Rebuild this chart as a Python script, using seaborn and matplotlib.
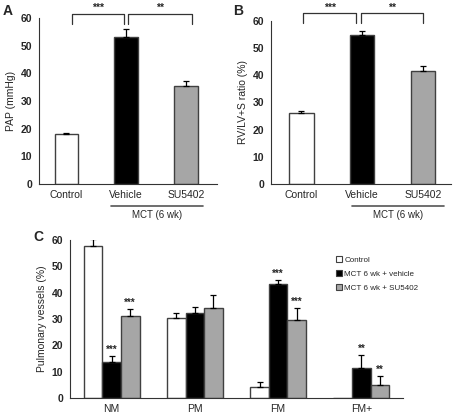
import numpy as np
import pandas as pd
import matplotlib
matplotlib.use('Agg')
import matplotlib.pyplot as plt
from matplotlib.lines import Line2D
from matplotlib.patches import Patch
import seaborn as sns

# panel A / B data
groups = ['Control', 'Vehicle', 'SU5402']
pap_mean = [18.0, 53.3, 35.5]
pap_err = [0.6, 2.8, 1.7]
rv_mean = [26.2, 55.0, 41.6]
rv_err = [0.6, 1.5, 1.7]

# panel C data
vessel_types = ['NM', 'PM', 'FM', 'FM+']
treatments = ['Control', 'MCT 6 wk + vehicle', 'MCT 6 wk + SU5402']
control_pct = [57.8, 30.2, 4.3, 0.0]
control_err = [2.6, 1.9, 1.6, 0.0]
vehicle_pct = [13.5, 32.3, 43.2, 11.3]
vehicle_err = [2.5, 2.3, 1.7, 5.0]
su_pct = [31.2, 34.2, 29.5, 5.0]
su_err = [2.6, 5.1, 4.8, 3.4]
vehicle_stars = ['***', '', '***', '**']
su_stars = ['***', '', '***', '**']

colors = ['white', 'black', '#a6a6a6']
edge = '#404040'

sns.set_style('white')
plt.rcParams['font.family'] = ['Liberation Sans', 'DejaVu Sans']

W, H = 461, 417
fig = plt.figure(figsize=(W / 100, H / 100), dpi=100)


def px_axes(l, t, r, b):
    return fig.add_axes([l / W, 1 - b / H, (r - l) / W, (b - t) / H])


def style_axis(ax, ylabel):
    sns.despine(ax=ax)
    for s in ['left', 'bottom']:
        ax.spines[s].set_color('#333333')
        ax.spines[s].set_linewidth(0.8)
    ax.set_ylim(0, 60)
    ax.set_yticks(range(0, 61, 10))
    ax.tick_params(axis='y', direction='out', length=3, width=0.8, color='#333333',
                   labelsize=7.5, pad=2)
    ax.tick_params(axis='x', length=0, labelsize=7.5, pad=4)
    for lab in ax.get_yticklabels():
        lab.set_fontweight('bold')
    ax.set_ylabel(ylabel, fontsize=7.5, labelpad=3)
    ax.set_xlabel('')


def simple_panel(ax, means, errs, ylabel, bracket, ytop, ylow):
    df = pd.DataFrame({'group': groups, 'value': means})
    sns.barplot(data=df, x='group', y='value', hue='group', palette=colors,
                width=0.4, edgecolor=edge, linewidth=1, legend=False, ax=ax)
    ax.errorbar(range(len(means)), means, yerr=[np.zeros(len(errs)), errs],
                fmt='none', ecolor='black', elinewidth=0.9, capsize=2, capthick=0.9)
    style_axis(ax, ylabel)
    # significance brackets
    (a0, a1), (b0, b1) = bracket
    for x0, x1, txt in [(a0, a1, '***'), (b0, b1, '**')]:
        ax.plot([x0, x0, x1, x1], [ylow, ytop, ytop, ylow], color='#333333',
                lw=0.9, clip_on=False)
        ax.text((x0 + x1) / 2, ytop + 0.3, txt, ha='center', va='bottom',
                fontsize=7.5, fontweight='bold', clip_on=False)


axA = px_axes(39, 18, 217, 184)
simple_panel(axA, pap_mean, pap_err, 'PAP (mmHg)', [(0.1, 0.96), (1.03, 2.1)], 61.5, 58.0)
axA.set_xlim(-0.46, 2.52)

axB = px_axes(271, 21, 451, 184)
simple_panel(axB, rv_mean, rv_err, 'RV/LV+S ratio (%)', [(0.03, 0.9), (0.98, 2.0)], 62.8, 59.4)
axB.set_xlim(-0.5, 2.46)

fig.text(3 / W, 1 - 11 / H, 'A', fontsize=10, fontweight='bold', va='center')
fig.text(233 / W, 1 - 11 / H, 'B', fontsize=10, fontweight='bold', va='center')

# MCT (6 wk) labels
for x0, x1 in [(111, 203), (352, 444)]:
    fig.add_artist(Line2D([x0 / W, x1 / W], [1 - 205.5 / H] * 2,
                          transform=fig.transFigure, color='#555555', lw=1.2))
    fig.text((x0 + x1) / 2 / W, 1 - 215 / H, 'MCT (6 wk)', ha='center', va='center',
             fontsize=7)

# panel C
axC = px_axes(70, 240, 403, 398)
dfC = pd.DataFrame({
    'type': vessel_types * 3,
    'treatment': np.repeat(treatments, len(vessel_types)),
    'value': control_pct + vehicle_pct + su_pct,
})
sns.barplot(data=dfC, x='type', y='value', hue='treatment', palette=colors,
            width=0.67, gap=0, edgecolor=edge, linewidth=1, legend=False, ax=axC)
style_axis(axC, 'Pulmonary vessels (%)')
axC.set_xlim(-0.5, 3.5)
axC.set_xticks([0.5, 1.5, 2.5, 3.5], minor=True)
axC.tick_params(axis='x', which='minor', direction='out', length=3, width=0.8,
                color='#333333')

errs_all = [control_err, vehicle_err, su_err]
means_all = [control_pct, vehicle_pct, su_pct]
stars_all = [[''] * 4, vehicle_stars, su_stars]
for cont, m, e, st in zip(axC.containers, means_all, errs_all, stars_all):
    xs = [bar.get_x() + bar.get_width() / 2 for bar in cont]
    keep = [i for i in range(len(m)) if m[i] > 0]
    axC.errorbar([xs[i] for i in keep], [m[i] for i in keep],
                 yerr=[[0] * len(keep), [e[i] for i in keep]],
                 fmt='none', ecolor='black', elinewidth=0.9, capsize=2, capthick=0.9)
    for i in keep:
        if st[i]:
            axC.text(xs[i], m[i] + e[i] + 0.3, st[i], ha='center', va='bottom',
                     fontsize=7, fontweight='bold')

handles = [Patch(facecolor=c, edgecolor=edge, linewidth=0.8) for c in colors]
axC.legend(handles, treatments, loc='upper left', bbox_to_anchor=(0.79, 0.92),
           frameon=False, fontsize=5.8, handlelength=0.7, handleheight=0.7,
           handletextpad=0.3, labelspacing=0.8, borderaxespad=0)

fig.text(33 / W, 1 - 237 / H, 'C', fontsize=10, fontweight='bold', va='center')

fig.savefig('out.png', dpi=100)
